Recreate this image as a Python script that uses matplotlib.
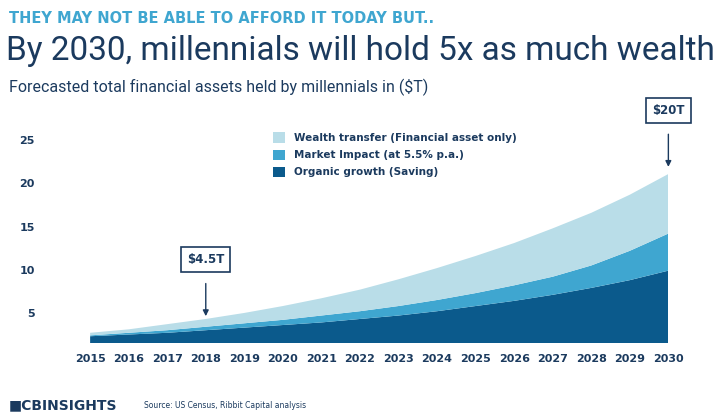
import matplotlib
matplotlib.use("Agg")
import matplotlib.pyplot as plt
import numpy as np

years = list(range(2015, 2031))
organic = [2.3, 2.5, 2.7, 3.0, 3.3, 3.6, 3.9, 4.3, 4.7, 5.2, 5.8, 6.4, 7.1, 7.9, 8.8, 9.9]
market_cum = [2.4, 2.7, 3.0, 3.4, 3.8, 4.2, 4.7, 5.2, 5.8, 6.5, 7.3, 8.2, 9.2, 10.5, 12.2, 14.2]
total = [2.7, 3.1, 3.7, 4.3, 5.0, 5.8, 6.7, 7.7, 8.9, 10.2, 11.6, 13.1, 14.8, 16.6, 18.7, 21.1]
market = [m - o for m, o in zip(market_cum, organic)]
transfer = [t - m for t, m in zip(total, market_cum)]
yticks = [5, 10, 15, 20, 25]
labels = ["Organic growth (Saving)", "Market Impact (at 5.5% p.a.)", "Wealth transfer (Financial asset only)"]
colors = ["#0b5a8c", "#3fa6d0", "#b9dde8"]
navy = "#1b3a5e"

fig = plt.figure(figsize=(7.21, 4.2), dpi=100)
ax = fig.add_axes([0.125, 0.183, 0.802, 0.524])
polys = ax.stackplot(years, organic, market, transfer, colors=colors, baseline="zero")
ax.set_xlim(2015, 2030)
ax.set_ylim(1.5, 27)
ax.set_xticks(years)
ax.set_yticks(yticks)
ax.tick_params(length=0, labelsize=8, colors=navy, pad=8)
for t in ax.get_xticklabels() + ax.get_yticklabels():
    t.set_fontweight("bold")
ax.tick_params(axis="y", pad=40)
for s in ax.spines.values():
    s.set_visible(False)

handles = [polys[2], polys[1], polys[0]]
ax.legend(handles, labels[::-1], loc="upper left", bbox_to_anchor=(0.3, 1.0), frameon=False,
          prop={"weight": "bold", "size": 7.5}, handlelength=1.2, handleheight=1.2,
          labelspacing=0.6)
for t in ax.get_legend().get_texts():
    t.set_color(navy)

bbox = dict(boxstyle="square,pad=0.5", fc="white", ec=navy, lw=1.2)
ax.annotate("$4.5T", xy=(2018, 4.3), xytext=(2018, 11.2), ha="center", va="center",
            fontsize=8.5, fontweight="bold", color=navy, bbox=bbox,
            arrowprops=dict(arrowstyle="-|>", color=navy, lw=1, shrinkA=8, shrinkB=2))
ax.annotate("$20T", xy=(2030, 21.6), xytext=(2030, 28.5), ha="center", va="center",
            fontsize=8.5, fontweight="bold", color=navy, bbox=bbox, annotation_clip=False,
            arrowprops=dict(arrowstyle="-|>", color=navy, lw=1, shrinkA=8, shrinkB=2))

fig.text(0.012, 0.955, "THEY MAY NOT BE ABLE TO AFFORD IT TODAY BUT..", fontsize=10.5,
         color="#3fa6d0", fontweight="bold", va="center")
fig.text(0.008, 0.878, "By 2030, millennials will hold 5x as much wealth", fontsize=24,
         color=navy, va="center", family="Roboto")
fig.text(0.012, 0.793, "Forecasted total financial assets held by millennials in ($T)", fontsize=11.5,
         color=navy, va="center", family="Roboto")
fig.text(0.012, 0.035, "■CBINSIGHTS", fontsize=10, color=navy, fontweight="bold", va="center")
fig.text(0.2, 0.035, "Source: US Census, Ribbit Capital analysis", fontsize=5.5, color=navy, va="center")

fig.savefig("out.png", dpi=100)
